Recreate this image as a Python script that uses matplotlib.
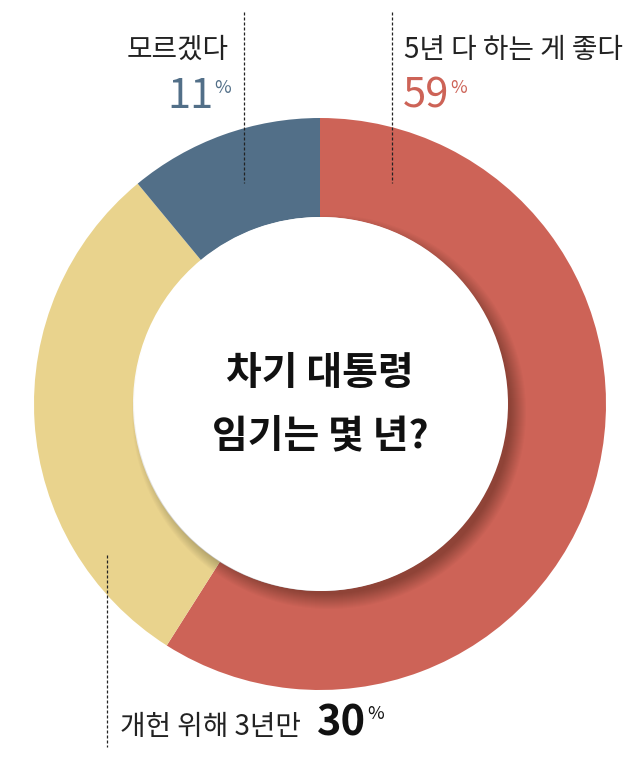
import matplotlib.pyplot as plt
from matplotlib.patches import Circle

plt.rcParams['font.family'] = ['Noto Sans CJK KR', 'DejaVu Sans']

# data
labels = ['5년 다 하는 게 좋다', '개헌 위해 3년만', '모르겠다']
values = [59, 30, 11]
colors = ['#cd6357', '#e9d38d', '#526f88']
title_lines = ['차기 대통령', '임기는 몇 년?']

W, H = 640, 777
fig = plt.figure(figsize=(W / 100, H / 100), dpi=100)
ax = fig.add_axes([0, 0, 1, 1])

def Y(y):
    # pixel row -> data y
    return H - y

cx, cy = 320, Y(404)
r_out, r_in = 286, 187

ax.pie(values, colors=colors, startangle=90, counterclock=False,
       radius=r_out, center=(cx, cy),
       wedgeprops=dict(width=r_out - r_in, linewidth=0))

# soft shadow of the inner circle, falling to the lower right
for k in range(16):
    ax.add_patch(Circle((cx + 9, cy - 8), r_in - 5 + k, color='black',
                        alpha=0.018, linewidth=0, zorder=3))
ax.add_patch(Circle((cx + 1, cy), r_in, color='white', linewidth=0, zorder=4))

ax.set_xlim(0, W)
ax.set_ylim(0, H)
ax.set_aspect('auto')
ax.axis('off')

# centre title
ax.text(cx, Y(374), title_lines[0], ha='center', va='center',
        fontsize=28, fontweight='bold', color='#111111', zorder=5)
ax.text(cx, Y(436), title_lines[1], ha='center', va='center',
        fontsize=28, fontweight='bold', color='#111111', zorder=5)

dash = dict(color='#222222', lw=0.9, linestyle=(0, (2.4, 1.6)), zorder=6)


def pct(x, y, val, color, ha, weight='normal'):
    num = ax.text(x, y, str(val), ha=ha, va='center', fontsize=30,
                  fontweight=weight, color=color)
    ax.annotate('%', xy=(1, 0.92), xycoords=num, xytext=(0.5, 0),
                textcoords='offset points', ha='left', va='top',
                fontsize=13, color=color)


# 모르겠다
ax.plot([244, 244], [Y(12), Y(183)], **dash)
ax.text(229, Y(50), labels[2], ha='right', va='center', fontsize=20,
        fontweight='light', color='#222222')
pct(214, Y(96), values[2], colors[2], 'right')

# 5년 다 하는 게 좋다
ax.plot([392, 392], [Y(12), Y(183)], **dash)
ax.text(404, Y(50), labels[0], ha='left', va='center', fontsize=20,
        fontweight='light', color='#222222')
pct(403, Y(96), values[0], colors[0], 'left')

# 개헌 위해 3년만
ax.plot([107, 107], [Y(555), Y(747)], **dash)
ax.text(120, Y(727), labels[1], ha='left', va='center', fontsize=20,
        fontweight='light', color='#222222')
pct(317, Y(723), values[1], '#111111', 'left', weight='bold')

fig.savefig('out.png', dpi=100)
